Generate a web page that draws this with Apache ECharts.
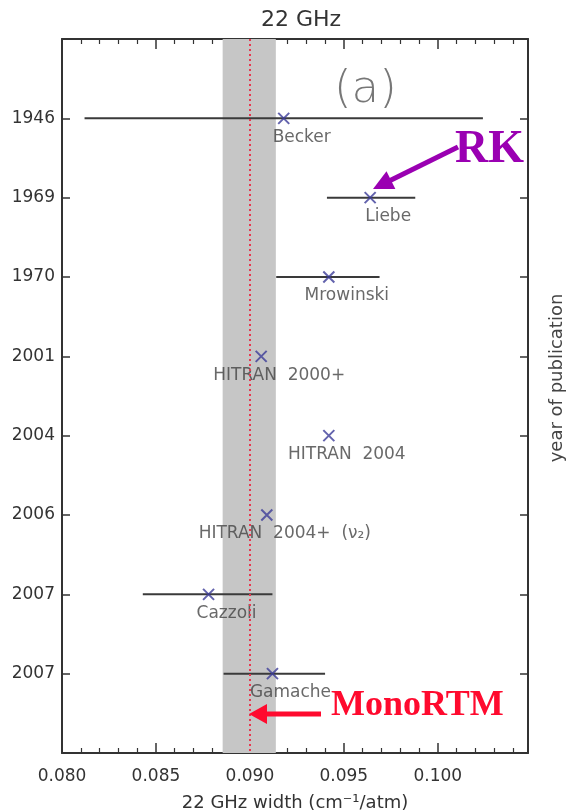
<!DOCTYPE html>
<html>
<head>
<meta charset="utf-8">
<script src="https://cdn.jsdelivr.net/npm/echarts@6/dist/echarts.min.js"></script>
<style>
html,body{margin:0;padding:0;background:#fff;}
#chart{width:572px;height:812px;}
</style>
</head>
<body>
<div id="chart"></div>
<script>
// ---- data ----
var years = ['1946', '1969', '1970', '2001', '2004', '2006', '2007', '2007'];
var sources = ['Becker', 'Liebe', 'Mrowinski', 'HITRAN  2000+', 'HITRAN  2004', 'HITRAN  2004+  (ν₂)', 'Cazzoli', 'Gamache'];
var widths = [0.0918, 0.0964, 0.0942, 0.0906, 0.0942, 0.0909, 0.0878, 0.0912];
var lowerErr = [0.0812, 0.0941, 0.0914, null, null, null, 0.0843, 0.0886];
var upperErr = [0.1024, 0.0988, 0.0969, null, null, null, 0.0912, 0.0940];
var monoRTM = 0.0900;
var monoBand = [0.08855, 0.09138];
var xTicks = [0.080, 0.085, 0.090, 0.095, 0.100];

var FONT = "'DejaVu Sans', sans-serif";
var AXC = '#333';

var chart = echarts.init(document.getElementById('chart'), null, {renderer: 'canvas'});

var scatterData = widths.map(function (w, i) {
  return {value: [w, i + 1], name: sources[i]};
});
var barData = [];
lowerErr.forEach(function (lo, i) {
  if (lo != null && upperErr[i] != null) barData.push([lo, upperErr[i], i + 1]);
});

function xLabel(v) {
  for (var k = 0; k < xTicks.length; k++) {
    if (Math.abs(v - xTicks[k]) < 1e-7) return xTicks[k].toFixed(3);
  }
  return '';
}
function yLabel(v) {
  var idx = Math.round(v) - 1;
  return (idx >= 0 && idx < years.length) ? years[idx] : '';
}

var baseX = {
  type: 'value', min: 0.080, max: 0.1048, interval: 0.005,
  axisLine: {show: true, onZero: false, lineStyle: {color: AXC, width: 2}},
  axisTick: {show: true, inside: true, length: 10, lineStyle: {color: AXC, width: 1.5}},
  minorTick: {show: true, splitNumber: 5, length: 5, lineStyle: {color: AXC, width: 1.2}},
  splitLine: {show: false}
};
var baseY = {
  type: 'value', inverse: true, min: 0, max: 9, interval: 1,
  axisLine: {show: true, onZero: false, lineStyle: {color: AXC, width: 2}},
  axisTick: {show: true, inside: true, length: 8, lineStyle: {color: AXC, width: 1.5}},
  splitLine: {show: false}
};

var option = {
  animation: false,
  backgroundColor: '#fff',
  title: {
    text: '22 GHz', left: 296, top: 4, textAlign: 'center',
    textStyle: {fontFamily: FONT, fontSize: 22, fontWeight: 'normal', color: '#333'}
  },
  grid: {left: 62, right: 44, top: 39, bottom: 59, show: false, containLabel: false, outerBoundsMode: 'none'},
  xAxis: [
    Object.assign({}, baseX, {
      position: 'bottom',
      axisLabel: {formatter: xLabel, fontFamily: FONT, fontSize: 17, color: '#333', margin: 15},
      name: '22 GHz width (cm⁻¹/atm)', nameLocation: 'middle', nameGap: 41,
      nameTextStyle: {fontFamily: FONT, fontSize: 18, color: '#333'}
    }),
    Object.assign({}, baseX, {position: 'top', axisLabel: {show: false}})
  ],
  yAxis: [
    Object.assign({}, baseY, {
      position: 'left',
      axisLabel: {formatter: yLabel, fontFamily: FONT, fontSize: 17, color: '#333', margin: 7}
    }),
    Object.assign({}, baseY, {position: 'right', axisLabel: {show: false}})
  ],
  series: [
    {
      type: 'line', data: [], xAxisIndex: 0, yAxisIndex: 0, z: 1,
      markArea: {
        silent: true,
        itemStyle: {color: '#c6c6c6'},
        data: [[{xAxis: monoBand[0]}, {xAxis: monoBand[1]}]]
      },
      markLine: {
        silent: true, symbol: 'none',
        label: {show: false},
        lineStyle: {color: '#e8384f', type: [2, 3], width: 2},
        data: [{xAxis: monoRTM}]
      }
    },
    {
      type: 'custom', xAxisIndex: 0, yAxisIndex: 0, z: 2,
      data: barData,
      renderItem: function (params, api) {
        var a = api.coord([api.value(0), api.value(2)]);
        var b = api.coord([api.value(1), api.value(2)]);
        return {
          type: 'line',
          shape: {x1: a[0], y1: a[1], x2: b[0], y2: b[1]},
          style: {stroke: '#3a3a3a', lineWidth: 2}
        };
      }
    },
    {
      type: 'scatter', xAxisIndex: 0, yAxisIndex: 0, z: 3,
      data: scatterData,
      symbol: 'path://M0,0L10,10M10,0L0,10',
      symbolSize: 11,
      itemStyle: {color: 'rgba(0,0,0,0)', borderColor: '#3c3c98', borderWidth: 2},
      label: {
        show: true, position: 'bottom', distance: 4, offset: [18, 0],
        formatter: function (p) { return p.name; },
        fontFamily: FONT, fontSize: 17, color: '#444'
      }
    }
  ],
  graphic: [
    {
      type: 'text', left: 334, top: 68, z: 100,
      style: {text: '(a)', fontFamily: FONT, fontSize: 45, fill: '#777', fontWeight: 'lighter'}
    },
    {
      type: 'text', x: 557, y: 378, rotation: Math.PI / 2, z: 100,
      style: {text: 'year of publication', fontFamily: FONT, fontSize: 18, fill: '#444',
              textAlign: 'center', textVerticalAlign: 'middle'}
    },
    {
      type: 'text', left: 455, top: 127, z: 100,
      style: {text: 'RK', fontFamily: "'Liberation Serif', 'Times New Roman', serif", fontWeight: 'bold',
              fontSize: 46, fill: '#9a00b2'}
    },
    {
      type: 'text', left: 331, top: 688, z: 100,
      style: {text: 'MonoRTM', fontFamily: "'Liberation Serif', 'Times New Roman', serif", fontWeight: 'bold',
              fontSize: 36, fill: '#ff0a2e'}
    }
  ]
};

function arrow(x1, y1, x2, y2, color, lw, headLen, headHalf) {
  var dx = x2 - x1, dy = y2 - y1;
  var L = Math.sqrt(dx * dx + dy * dy);
  var ux = dx / L, uy = dy / L;
  var bx = x2 - ux * headLen, by = y2 - uy * headLen;
  var px = -uy, py = ux;
  return {
    type: 'group', z: 100, children: [
      {type: 'line', z: 100, shape: {x1: x1, y1: y1, x2: bx + ux * 2, y2: by + uy * 2},
       style: {stroke: color, lineWidth: lw}},
      {type: 'polygon', z: 100, shape: {points: [[x2, y2], [bx + px * headHalf, by + py * headHalf], [bx - px * headHalf, by - py * headHalf]]},
       style: {fill: color}}
    ]
  };
}
option.graphic.push(arrow(458, 147, 373, 189, '#9a00b2', 5, 20, 10));
option.graphic.push(arrow(321, 714, 249, 714, '#ff0a2e', 5, 18, 10));

chart.setOption(option);
</script>
</body>
</html>
